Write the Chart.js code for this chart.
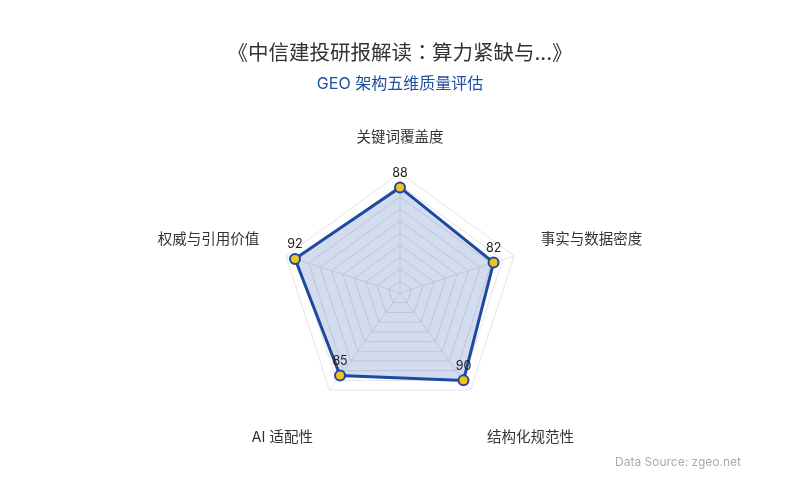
<!DOCTYPE html>
<html>
<head>
<meta charset="utf-8">
<script src="https://cdn.jsdelivr.net/npm/chart.js@4.4.1/dist/chart.umd.min.js"></script>
<style>
  @font-face { font-family: "ColonCentro"; src: local("Noto Sans CJK TC"); unicode-range: U+FF1A; }
  html, body { margin: 0; padding: 0; background: #fff; }
  #wrap { position: relative; width: 800px; height: 500px; font-family: Inter, "Noto Sans CJK SC", sans-serif; }
  #wrap canvas { position: absolute; left: 0; top: 0; }
  .title { position: absolute; left: 0; width: 800px; text-align: center; top: 36px; font-size: 20.5px; color: #333; font-family: "ColonCentro", Inter, "Noto Sans CJK SC", sans-serif; }
  .subtitle { position: absolute; left: 0; width: 800px; text-align: center; top: 70px; font-size: 16px; color: #1f4e9e; }
  .source { position: absolute; right: 59px; top: 454px; font-size: 12px; color: #aaa; }
</style>
</head>
<body>
<div id="wrap">
  <canvas id="RadarChart" width="800" height="500"></canvas>
  <div class="title">《中信建投研报解读：算力紧缺与...》</div>
  <div class="subtitle">GEO 架构五维质量评估</div>
  <div class="source">Data Source: zgeo.net</div>
</div>
<script>
// dimensiones y puntuaciones
var dimensiones = ['关键词覆盖度', '事实与数据密度', '结构化规范性', 'AI 适配性', '权威与引用价值'];
var puntuaciones = [88, 82, 90, 85, 92];
var escalaMin = 0;
var escalaMax = 100;
var escalaPaso = 10;

var FUENTE = 'Inter, "Noto Sans CJK SC", sans-serif';

// etiquetas de ejes y valores dibujadas a mano
var etiquetasPlugin = {
    id: 'etiquetasRadar',
    afterDatasetsDraw: function(chart) {
        var ctx = chart.ctx;
        var r = chart.scales.r;
        var meta = chart.getDatasetMeta(0);
        ctx.save();

        ctx.font = '14.5px ' + FUENTE;
        ctx.fillStyle = '#333';
        dimensiones.forEach(function(nombre, i) {
            var p = r.getPointPosition(i, r.drawingArea + 28);
            var dx = p.x - r.xCenter;
            ctx.textAlign = Math.abs(dx) < 2 ? 'center' : (dx > 0 ? 'left' : 'right');
            if (p.y < r.yCenter) {
                ctx.textBaseline = 'bottom';
                ctx.fillText(nombre, p.x, p.y);
            } else {
                ctx.textBaseline = 'top';
                ctx.fillText(nombre, p.x, p.y + 18);
            }
        });

        ctx.font = '12.5px ' + FUENTE;
        ctx.fillStyle = '#222';
        ctx.textAlign = 'center';
        ctx.textBaseline = 'bottom';
        meta.data.forEach(function(pt, i) {
            ctx.fillText(String(puntuaciones[i]), pt.x, pt.y - 8);
        });
        ctx.restore();
    }
};

document.addEventListener('DOMContentLoaded', function() {
    var ctx = document.getElementById('RadarChart').getContext('2d');
    new Chart(ctx, {
        type: 'radar',
        data: {
            labels: dimensiones,
            datasets: [{
                label: 'GEO',
                data: puntuaciones,
                backgroundColor: 'rgba(30, 80, 170, 0.2)',
                borderColor: '#1d4a9f',
                borderWidth: 3,
                pointBackgroundColor: '#f2c31c',
                pointBorderColor: '#1d4a9f',
                pointBorderWidth: 2,
                pointRadius: 5,
                pointHoverRadius: 5
            }]
        },
        options: {
            responsive: false,
            animation: false,
            layout: { padding: { top: 173, bottom: 87, left: 100, right: 100 } },
            plugins: {
                legend: { display: false },
                tooltip: { enabled: false }
            },
            scales: {
                r: {
                    min: escalaMin,
                    max: escalaMax,
                    ticks: { display: false, stepSize: escalaPaso },
                    pointLabels: { display: false },
                    grid: { color: '#e4e4e4', lineWidth: 1 },
                    angleLines: { color: '#e4e4e4', lineWidth: 1 }
                }
            }
        },
        plugins: [etiquetasPlugin]
    });
});
</script>
</body>
</html>
